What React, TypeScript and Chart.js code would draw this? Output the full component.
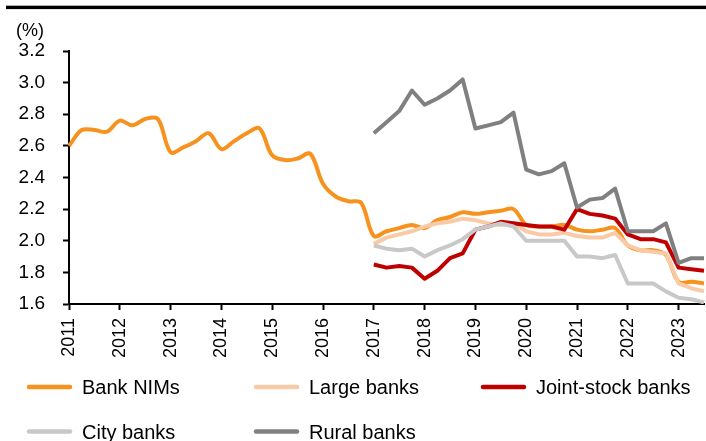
import React, { useEffect, useRef } from "react";
import { Chart, registerables } from "chart.js";

Chart.register(...registerables);

const FONT = "'Liberation Sans', Arial, Helvetica, sans-serif";

// Quarterly periods, 2011Q1 to 2023Q3
const years = ["2011", "2012", "2013", "2014", "2015", "2016", "2017", "2018", "2019", "2020", "2021", "2022", "2023"];
const quarters = ["Q1", "Q2", "Q3", "Q4"];
const periods = years.flatMap((y) => quarters.map((q) => `${y}${q}`)).slice(0, 51);

const unitLabel = "(%)";
const yTicks = [1.6, 1.8, 2.0, 2.2, 2.4, 2.6, 2.8, 3.0, 3.2];

// Net interest margins (%)
const bankNIMs = [
  2.60, 2.70, 2.70, 2.69,
  2.76, 2.73, 2.77, 2.77,
  2.56, 2.59, 2.63, 2.68,
  2.58, 2.63, 2.68, 2.71,
  2.54, 2.51, 2.52, 2.55,
  2.36, 2.28, 2.25, 2.24,
  2.03, 2.06, 2.08, 2.10,
  2.08, 2.13, 2.15, 2.18,
  2.17, 2.18, 2.19, 2.20,
  2.10, 2.09, 2.09, 2.10,
  2.07, 2.06, 2.07, 2.08,
  1.97, 1.94, 1.94, 1.91,
  1.74, 1.74, 1.73,
];

const largeBanks = [
  null, null, null, null, null, null, null, null, null, null, null, null,
  null, null, null, null, null, null, null, null, null, null, null, null,
  1.98, 2.02, 2.04, 2.06,
  2.09, 2.11, 2.12, 2.14,
  2.13, 2.11, 2.10, 2.11,
  2.06, 2.04, 2.04, 2.05,
  2.03, 2.02, 2.02, 2.05,
  1.97, 1.94, 1.93, 1.92,
  1.73, 1.70, 1.68,
];

const jointStockBanks = [
  null, null, null, null, null, null, null, null, null, null, null, null,
  null, null, null, null, null, null, null, null, null, null, null, null,
  1.85, 1.83, 1.84, 1.83,
  1.76, 1.81, 1.89, 1.92,
  2.07, 2.09, 2.12, 2.11,
  2.10, 2.09, 2.09, 2.07,
  2.20, 2.17, 2.16, 2.14,
  2.04, 2.01, 2.01, 1.99,
  1.83, 1.82, 1.81,
];

const cityBanks = [
  null, null, null, null, null, null, null, null, null, null, null, null,
  null, null, null, null, null, null, null, null, null, null, null, null,
  1.97, 1.95, 1.94, 1.95,
  1.90, 1.94, 1.97, 2.01,
  2.07, 2.09, 2.11, 2.09,
  2.00, 2.00, 2.00, 2.00,
  1.90, 1.90, 1.89, 1.91,
  1.73, 1.73, 1.73, 1.68,
  1.64, 1.63, 1.61,
];

const ruralBanks = [
  null, null, null, null, null, null, null, null, null, null, null, null,
  null, null, null, null, null, null, null, null, null, null, null, null,
  2.68, 2.75, 2.82, 2.95,
  2.86, 2.90, 2.95, 3.02,
  2.71, 2.73, 2.75, 2.81,
  2.45, 2.42, 2.44, 2.49,
  2.21, 2.26, 2.27, 2.33,
  2.06, 2.06, 2.06, 2.11,
  1.86, 1.89, 1.89,
];

const seriesNames = ["Bank NIMs", "Large banks", "Joint-stock banks", "City banks", "Rural banks"];
const seriesColors = ["#F7921F", "#F9CAA6", "#C00000", "#C8C8C8", "#808080"];

// Header rule, unit label and a two-row legend laid out on fixed columns
const decorPlugin = {
  id: "decor",
  afterDraw(chart: any) {
    const ctx = chart.ctx as CanvasRenderingContext2D;
    ctx.save();
    ctx.fillStyle = "#000";
    ctx.fillRect(6, 5.7, 700, 3.4);

    ctx.font = `18px ${FONT}`;
    ctx.textAlign = "center";
    ctx.textBaseline = "alphabetic";
    ctx.fillText(unitLabel, 30, 35.5);

    const cols = [27, 254, 481];
    const rows = [{ line: 387, base: 394 }, { line: 431.5, base: 438.5 }];
    ctx.font = `20px ${FONT}`;
    ctx.textAlign = "left";
    chart.data.datasets.forEach((ds: any, i: number) => {
      const col = cols[i % 3];
      const row = rows[Math.floor(i / 3)];
      ctx.strokeStyle = ds.borderColor;
      ctx.lineWidth = 4.5;
      ctx.lineCap = "round";
      ctx.beginPath();
      ctx.moveTo(col + 2, row.line);
      ctx.lineTo(col + 43, row.line);
      ctx.stroke();
      ctx.fillStyle = "#000";
      ctx.fillText(ds.label, col + 55, row.base);
    });
    ctx.restore();
  },
};

export default function App() {
  const canvasRef = useRef<HTMLCanvasElement | null>(null);

  useEffect(() => {
    if (!canvasRef.current) return;
    const seriesData = [bankNIMs, largeBanks, jointStockBanks, cityBanks, ruralBanks];
    const datasets = seriesData.map((data, i) => ({
      label: seriesNames[i],
      data,
      borderColor: seriesColors[i],
      backgroundColor: seriesColors[i],
      borderWidth: 4,
      pointRadius: 0,
      pointHoverRadius: 0,
      tension: i === 0 ? 0.35 : 0,
      borderJoinStyle: "round" as const,
      borderCapStyle: "butt" as const,
      spanGaps: false,
      order: seriesData.length - i,
    }));

    const chart = new Chart(canvasRef.current, {
      type: "line",
      data: { labels: periods, datasets },
      options: {
        animation: false,
        responsive: false,
        maintainAspectRatio: false,
        events: [],
        layout: { padding: { top: 51, right: 2, bottom: 0, left: 0 } },
        plugins: {
          legend: { display: false },
          tooltip: { enabled: false },
          title: { display: false },
        },
        scales: {
          x: {
            type: "category",
            offset: false,
            border: { display: true, color: "#000", width: 2 },
            grid: {
              display: true,
              drawOnChartArea: false,
              drawTicks: true,
              tickLength: 6,
              tickWidth: 2,
              tickColor: (ctx: any) => (ctx.index % 4 === 0 ? "#000" : "rgba(0,0,0,0)"),
            },
            ticks: {
              autoSkip: false,
              minRotation: 90,
              maxRotation: 90,
              padding: 8,
              color: "#000",
              font: { family: FONT, size: 18 },
              callback: (_v: any, idx: number) => (idx % 4 === 0 ? periods[idx].slice(0, 4) : ""),
            },
            afterFit: (scale: any) => {
              scale.height = 137;
              scale.paddingLeft = 0;
              scale.paddingRight = 0;
            },
          },
          y: {
            type: "linear",
            min: yTicks[0],
            max: yTicks[yTicks.length - 1],
            border: { display: true, color: "#000", width: 2 },
            grid: {
              display: true,
              drawOnChartArea: false,
              drawTicks: true,
              tickLength: 6,
              tickWidth: 2,
              tickColor: "#000",
            },
            afterBuildTicks: (scale: any) => {
              scale.ticks = yTicks.map((v) => ({ value: v }));
            },
            ticks: {
              padding: 18,
              color: "#000",
              font: { family: FONT, size: 19 },
              callback: (v: any) => Number(v).toFixed(1),
            },
            afterFit: (scale: any) => {
              scale.width = 69;
            },
          },
        },
      },
      plugins: [decorPlugin],
    });

    return () => chart.destroy();
  }, []);

  return (
    <div style={{ position: "fixed", left: 0, top: 0, width: 706, height: 441, background: "#fff" }}>
      <canvas ref={canvasRef} width={706} height={441} style={{ width: 706, height: 441, display: "block" }} />
    </div>
  );
}
